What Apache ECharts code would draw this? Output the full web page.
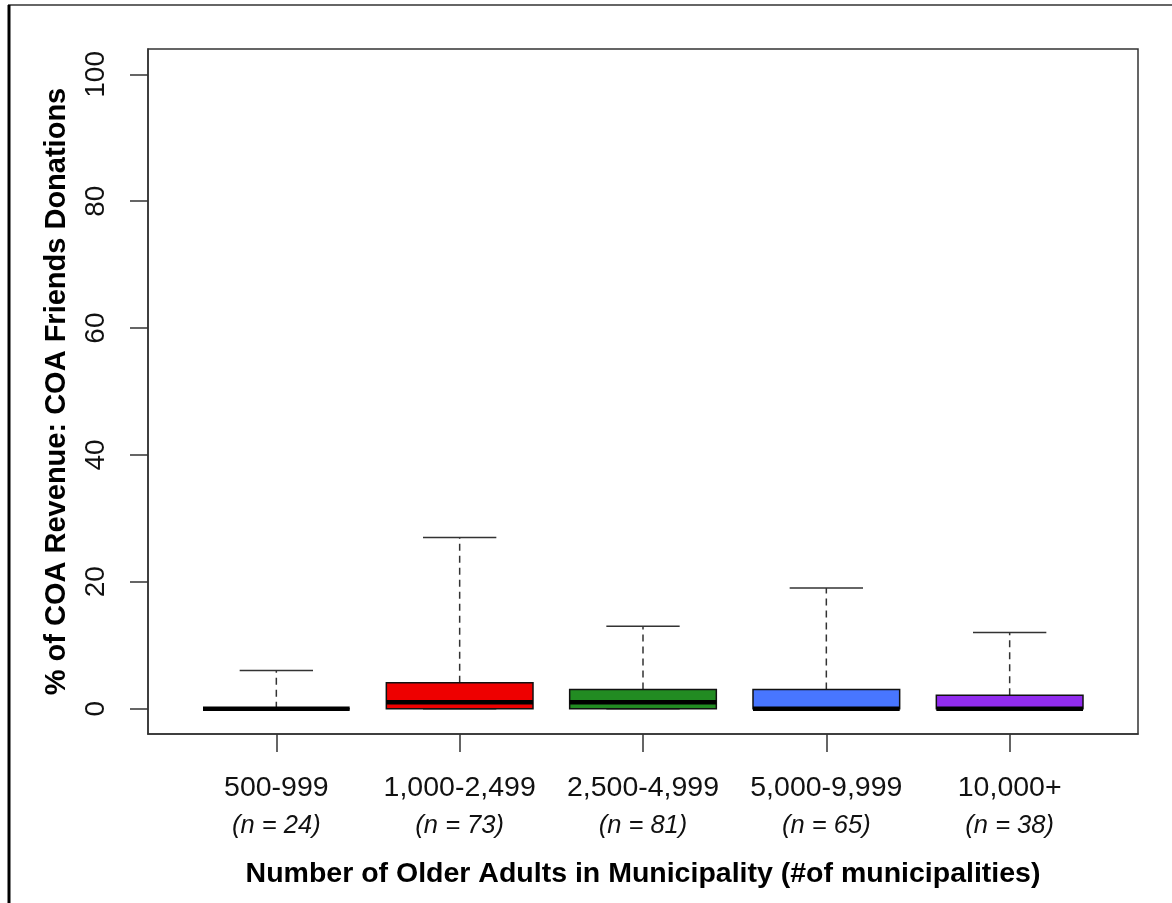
<!DOCTYPE html>
<html>
<head>
<meta charset="utf-8">
<script src="https://cdn.jsdelivr.net/npm/echarts@6/dist/echarts.min.js"></script>
<style>
  html, body { margin: 0; padding: 0; background: #fff; }
  #chart { width: 1172px; height: 903px; }
</style>
</head>
<body>
<div id="chart"></div>
<script>
// groups on the x axis
const categories = ['500-999', '1,000-2,499', '2,500-4,999', '5,000-9,999', '10,000+'];
const groupSizes = [24, 73, 81, 65, 38];
// box statistics (% of COA revenue)
const lowerWhisker = [0, 0, 0, 0, 0];
const q1 = [0, 0, 0, 0, 0];
const median = [0, 1, 1, 0, 0];
const q3 = [0, 4.1, 3, 3, 2.1];
const upperWhisker = [6, 27, 13, 19, 12];
const boxColors = ['#000000', '#EE0000', '#228B22', '#4876FF', '#912CEE'];
const yTicks = [0, 20, 40, 60, 80, 100];
const xTicks = [1, 2, 3, 4, 5];

const font = 'Liberation Sans, Arial, sans-serif';

const boxData = categories.map(function (c, i) {
  return [i + 1, lowerWhisker[i], q1[i], median[i], q3[i], upperWhisker[i], i];
});

function renderBox (params, api) {
  const x = api.value(0);
  const idx = api.value(6);
  const halfW = api.size([0.4, 0])[0];
  const capW = halfW / 2;
  const pLow = api.coord([x, api.value(1)]);
  const pQ1 = api.coord([x, api.value(2)]);
  const pMed = api.coord([x, api.value(3)]);
  const pQ3 = api.coord([x, api.value(4)]);
  const pHigh = api.coord([x, api.value(5)]);
  const cx = pQ1[0];
  const dashStyle = { stroke: '#333', lineWidth: 1.5, lineDash: [7, 5] };
  const capStyle = { stroke: '#333', lineWidth: 1.5 };
  return {
    type: 'group',
    children: [
      { type: 'line', shape: { x1: cx, y1: pQ3[1], x2: cx, y2: pHigh[1] }, style: dashStyle },
      { type: 'line', shape: { x1: cx, y1: pQ1[1], x2: cx, y2: pLow[1] }, style: dashStyle },
      { type: 'line', shape: { x1: cx - capW, y1: pHigh[1], x2: cx + capW, y2: pHigh[1] }, style: capStyle },
      { type: 'line', shape: { x1: cx - capW, y1: pLow[1], x2: cx + capW, y2: pLow[1] }, style: capStyle },
      {
        type: 'rect',
        shape: { x: cx - halfW, y: pQ3[1], width: halfW * 2, height: pQ1[1] - pQ3[1] },
        style: { fill: boxColors[idx], stroke: '#111', lineWidth: 1.5 }
      },
      { type: 'line', shape: { x1: cx - halfW, y1: pMed[1], x2: cx + halfW, y2: pMed[1] }, style: { stroke: '#000', lineWidth: 4.5 } }
    ]
  };
}

const chart = echarts.init(document.getElementById('chart'));
chart.setOption({
  backgroundColor: '#fff',
  animation: false,
  textStyle: { fontFamily: font },
  grid: {
    left: 148, top: 49, width: 990, height: 685,
    show: true, borderColor: '#333', borderWidth: 1.5, backgroundColor: 'transparent'
  },
  graphic: [
    // border of the page figure
    { type: 'line', shape: { x1: 8, y1: 5, x2: 1172, y2: 5 }, style: { stroke: '#666', lineWidth: 2 } },
    { type: 'line', shape: { x1: 9, y1: 5, x2: 9, y2: 903 }, style: { stroke: '#000', lineWidth: 3 } }
  ],
  xAxis: {
    type: 'value',
    min: 0.3,
    max: 5.7,
    name: 'Number of Older Adults in Municipality (#of municipalities)',
    nameLocation: 'middle',
    nameGap: 126,
    nameTextStyle: { fontSize: 28.5, fontWeight: 'bold', color: '#000', fontFamily: font },
    axisLine: { show: true, onZero: false, lineStyle: { color: '#333', width: 1.5 } },
    axisTick: { show: true, customValues: xTicks, length: 18, lineStyle: { color: '#333', width: 1.5 } },
    axisLabel: {
      customValues: xTicks,
      margin: 36,
      formatter: function (v) {
        const i = Math.round(v) - 1;
        return '{a|' + categories[i] + '}\n{b|(n = ' + groupSizes[i] + ')}';
      },
      rich: {
        a: { fontSize: 28.5, lineHeight: 37, color: '#111', fontFamily: font },
        b: { fontSize: 25.5, lineHeight: 37, color: '#111', fontStyle: 'italic', fontFamily: font }
      }
    },
    splitLine: { show: false }
  },
  yAxis: {
    type: 'value',
    min: -4,
    max: 104,
    name: '% of COA Revenue: COA Friends Donations',
    nameLocation: 'middle',
    nameGap: 77,
    nameTextStyle: { fontSize: 29, fontWeight: 'bold', color: '#000', fontFamily: font },
    axisLine: { show: true, onZero: false, lineStyle: { color: '#333', width: 1.5 } },
    axisTick: { show: true, customValues: yTicks, length: 18, lineStyle: { color: '#333', width: 1.5 } },
    axisLabel: {
      customValues: yTicks,
      rotate: 90,
      margin: 38,
      fontSize: 28,
      color: '#111',
      fontFamily: font
    },
    splitLine: { show: false }
  },
  series: [
    {
      type: 'custom',
      renderItem: renderBox,
      encode: { x: 0, y: [1, 2, 3, 4, 5] },
      data: boxData,
      clip: false
    }
  ]
});
</script>
</body>
</html>
